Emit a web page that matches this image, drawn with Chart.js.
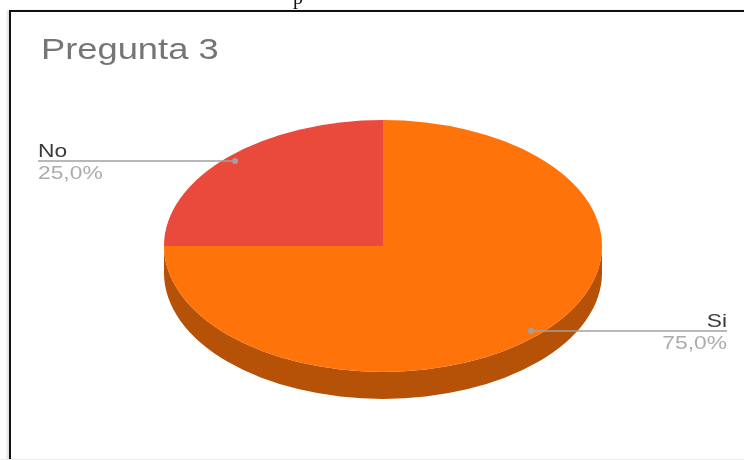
<!DOCTYPE html>
<html>
<head>
<meta charset="utf-8">
<script src="https://cdn.jsdelivr.net/npm/chart.js@4"></script>
<style>
  html, body { margin: 0; padding: 0; background: #fff; }
  #wrap { position: relative; width: 744px; height: 460px; overflow: hidden; }
  #pie { position: absolute; left: 0; top: 0; }
  #frame {
    position: absolute; left: 9px; top: 10px; width: 740px; height: 455px;
    border-top: 2px solid #111; border-left: 2px solid #111;
    box-shadow: -2px 0 2px rgba(0,0,0,0.12);
  }
  #bottomline { position: absolute; left: 0; top: 459px; width: 744px; height: 1px; background: #ececec; }
  #title {
    position: absolute; left: 41px; top: 34px;
    font: 30px/30px "Liberation Sans", Arial, sans-serif; color: #757575;
    transform: scaleX(1.21); transform-origin: left top; white-space: nowrap;
  }
  #cut { position: absolute; left: 293px; top: -13px; font: 20px/20px "Liberation Serif", serif; color: #111; }
</style>
</head>
<body>
<div id="wrap">
  <canvas id="pie" width="744" height="460"></canvas>
  <div id="frame"></div>
  <div id="bottomline"></div>
  <div id="cut">p</div>
  <div id="title">Pregunta 3</div>
</div>
<script>
const labels = ['Si', 'No'];
const values = [75, 25];

const topColors = ['#ff730b', '#ea4a3c'];
const sideColors = ['#b65207', '#a8352a'];

const TILT = 0.575;      // vertical squash of the pie
const SHIFT_Y = 16;      // ellipse centre below the circle centre
const DEPTH = 27;        // thickness of the side wall
const STRETCH = 1.2;     // horizontal stretch of the text

function pct(v) {
  const total = values.reduce((a, b) => a + b, 0);
  return (v / total * 100).toFixed(1).replace('.', ',') + '%';
}

function stretchedText(ctx, text, x, y, align, font, color) {
  ctx.save();
  ctx.translate(x, y);
  ctx.scale(STRETCH, 1);
  ctx.font = font;
  ctx.fillStyle = color;
  ctx.textAlign = align;
  ctx.textBaseline = 'alphabetic';
  ctx.fillText(text, 0, 0);
  ctx.restore();
}

const tiltPlugin = {
  id: 'tilt',
  beforeDatasetsDraw(chart) {
    const ctx = chart.ctx;
    const arcs = chart.getDatasetMeta(0).data;
    // side wall, only the front half can be seen
    arcs.forEach((arc, i) => {
      const { x, y, startAngle, endAngle, outerRadius } = arc.getProps(['x', 'y', 'startAngle', 'endAngle', 'outerRadius'], true);
      const a0 = Math.max(startAngle, 0);
      const a1 = Math.min(endAngle, Math.PI);
      if (a1 <= a0) return;
      const cy = y + SHIFT_Y;
      const rx = outerRadius, ry = outerRadius * TILT;
      ctx.beginPath();
      ctx.ellipse(x, cy, rx, ry, 0, a0, a1);
      ctx.lineTo(x + rx * Math.cos(a1), cy + ry * Math.sin(a1) + DEPTH);
      ctx.ellipse(x, cy + DEPTH, rx, ry, 0, a1, a0, true);
      ctx.closePath();
      ctx.fillStyle = sideColors[i];
      ctx.fill();
    });
    const a = arcs[0];
    ctx.save();
    ctx.translate(a.x, a.y + SHIFT_Y);
    ctx.scale(1, TILT);
    ctx.translate(-a.x, -a.y);
  },
  afterDatasetsDraw(chart) {
    const ctx = chart.ctx;
    ctx.restore();
    const arcs = chart.getDatasetMeta(0).data;
    arcs.forEach((arc, i) => {
      const { x, y, startAngle, endAngle, outerRadius } = arc.getProps(['x', 'y', 'startAngle', 'endAngle', 'outerRadius'], true);
      const mid = (startAngle + endAngle) / 2;
      const r = outerRadius * 0.955;
      const px = x + r * Math.cos(mid);
      const py = y + SHIFT_Y + r * Math.sin(mid) * TILT;
      const left = Math.cos(mid) < 0;
      const tx = left ? 38 : 727;
      ctx.strokeStyle = '#a0a0a0';
      ctx.lineWidth = 1.5;
      ctx.beginPath();
      ctx.moveTo(px, py);
      ctx.lineTo(tx, py);
      ctx.stroke();
      ctx.fillStyle = '#a0a0a0';
      ctx.beginPath();
      ctx.arc(px, py, 3, 0, Math.PI * 2);
      ctx.fill();
      const align = left ? 'left' : 'right';
      stretchedText(ctx, labels[i], tx, py - 4, align, '19px "Liberation Sans", Arial, sans-serif', '#3a3a3a');
      stretchedText(ctx, pct(values[i]), tx, py + 18, align, '19px "Liberation Sans", Arial, sans-serif', '#acacac');
    });
  }
};

new Chart(document.getElementById('pie'), {
  type: 'pie',
  data: {
    labels,
    datasets: [{
      data: values,
      backgroundColor: topColors,
      borderWidth: 0,
      clip: false
    }]
  },
  options: {
    responsive: false,
    animation: false,
    layout: { padding: { left: 164, right: 142, top: 11, bottom: 11 } },
    plugins: {
      legend: { display: false },
      title: { display: false },
      tooltip: { enabled: false }
    }
  },
  plugins: [tiltPlugin]
});
</script>
</body>
</html>
